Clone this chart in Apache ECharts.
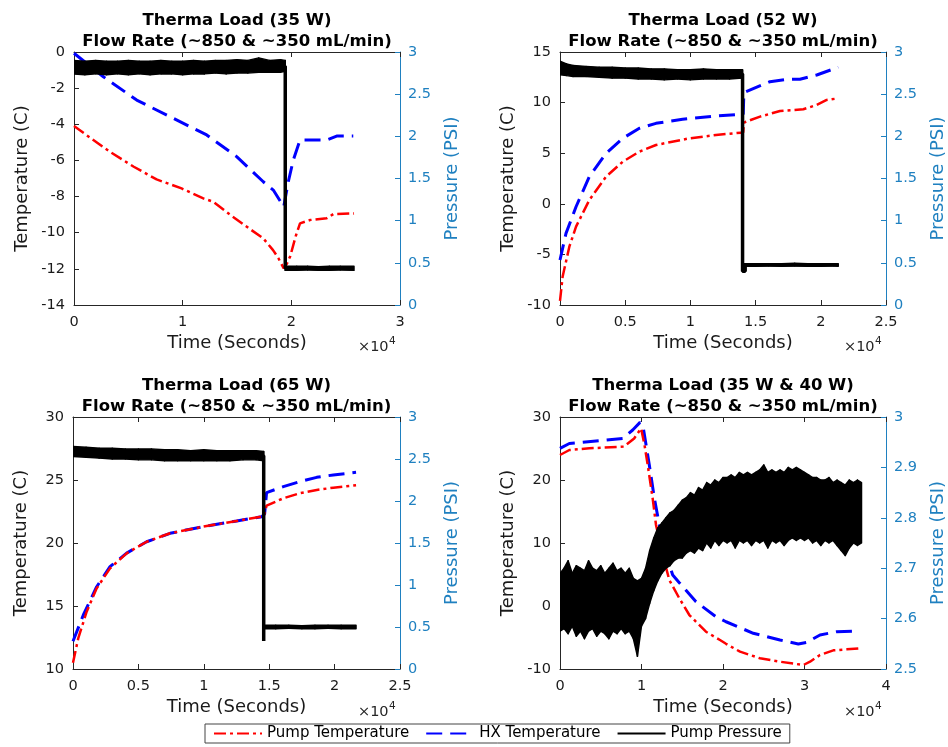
<!DOCTYPE html>
<html>
<head>
<meta charset="utf-8">
<script src="https://cdn.jsdelivr.net/npm/echarts@6/dist/echarts.min.js"></script>
<style>
html,body{margin:0;padding:0;background:#ffffff;}
#chart{width:948px;height:747px;}
</style>
</head>
<body>
<div id="chart"></div>
<script>
// ---------------- DATA ----------------
const titleLine1 = ['Therma Load (35 W)', 'Therma Load (52 W)', 'Therma Load (65 W)', 'Therma Load (35 W & 40 W)'];
const titleLine2 = 'Flow Rate (~850 & ~350 mL/min)';
const seriesNames = ['Pump Temperature', 'HX Temperature', 'Pump Pressure'];
const xAxisTitle = 'Time (Seconds)';
const leftAxisTitle = 'Temperature (C)';
const rightAxisTitle = 'Pressure (PSI)';
const xExponentText = ['\u00d710', '4'];

// axis ranges per panel
const xAxisMax = [30000, 25000, 25000, 40000];
const xAxisStep = [10000, 5000, 5000, 10000];
const tempAxisMin = [-14, -10, 10, -10];
const tempAxisMax = [0, 15, 30, 30];
const tempAxisStep = [2, 5, 5, 10];
const presAxisMin = [0, 0, 0, 2.5];
const presAxisMax = [3, 3, 3, 3];
const presAxisStep = [0.5, 0.5, 0.5, 0.1];

// ---- Panel 1 (35 W) ----
const p1PumpTemp = [[0,-4.1],[1500,-4.75],[3300,-5.52],[5500,-6.35],[7600,-7.05],[9900,-7.55],[11900,-8.1],[12800,-8.28],[14350,-9.0],[16200,-9.8],[17400,-10.3],[18300,-10.95],[18800,-11.4],[19300,-11.97],[19600,-11.7],[19900,-11.3],[20400,-10.2],[20800,-9.48],[21700,-9.3],[23250,-9.2],[23860,-8.97],[25770,-8.93]];
const p1HxTemp = [[0,-0.07],[2700,-1.37],[5770,-2.66],[8830,-3.58],[10980,-4.22],[12210,-4.59],[14970,-5.79],[17420,-7.18],[18340,-7.64],[19300,-8.56],[19720,-7.18],[20180,-5.98],[20800,-4.87],[23250,-4.87],[24170,-4.65],[25700,-4.65]];
const p1PresTime = [0,1000,2000,3000,4000,5000,6000,7000,8000,9000,10000,11000,12000,13000,14000,15000,16000,17000,18000,19000,19440,19440,20500,21500,22500,23500,24500,25770];
const p1PresLow  = [2.74,2.73,2.74,2.73,2.74,2.73,2.74,2.73,2.74,2.74,2.73,2.74,2.74,2.75,2.74,2.75,2.75,2.76,2.76,2.76,2.77,0.41,0.41,0.415,0.41,0.41,0.415,0.41];
const p1PresHigh = [2.90,2.89,2.90,2.89,2.89,2.90,2.89,2.89,2.90,2.89,2.89,2.90,2.89,2.90,2.90,2.91,2.90,2.93,2.90,2.91,2.90,0.46,0.46,0.46,0.455,0.46,0.46,0.46];
const p1PresMid  = [[0,2.82],[19440,2.83],[19440,0.435],[25770,0.435]];

// ---- Panel 2 (52 W) ----
const p2PumpTemp = [[0,-9.6],[200,-7.2],[716,-4.24],[1230,-2.26],[2250,0.38],[3530,2.68],[4810,4.16],[6085,5.15],[7360,5.81],[9920,6.47],[11960,6.8],[13880,7.03],[14050,7.05],[14100,8.0],[14265,8.11],[15340,8.61],[16870,9.17],[18660,9.34],[19690,9.77],[20450,10.26],[21340,10.42]];
const p2HxTemp = [[0,-5.55],[460,-2.92],[1230,-0.29],[2250,2.68],[3530,4.99],[4810,6.47],[6085,7.46],[7360,7.95],[9400,8.35],[11960,8.68],[13880,8.84],[14050,8.85],[14100,10.9],[14265,11.08],[16100,12.07],[17385,12.3],[18400,12.3],[19690,12.73],[21340,13.49]];
const p2PresTime = [0,500,1000,2000,3000,4000,5000,6000,7000,8000,9000,10000,11000,12000,13000,14000,14000,15000,16000,17000,18000,19000,20000,21000,21340];
const p2PresLow  = [2.73,2.72,2.71,2.71,2.70,2.69,2.69,2.68,2.68,2.67,2.68,2.67,2.68,2.68,2.68,2.69,0.46,0.46,0.465,0.46,0.465,0.46,0.46,0.465,0.46];
const p2PresHigh = [2.89,2.86,2.84,2.83,2.82,2.82,2.81,2.81,2.80,2.80,2.79,2.79,2.80,2.79,2.79,2.79,0.49,0.49,0.49,0.49,0.495,0.49,0.49,0.49,0.49];
const p2PresMid  = [[0,2.80],[14000,2.74],[14000,0.40],[14200,0.40],[14200,0.475],[21340,0.475]];

// ---- Panel 3 (65 W) ----
const p3PumpTemp = [[0,10.5],[400,12.43],[1045,14.55],[1810,16.4],[2830,17.99],[4100,19.18],[5630,20.1],[7420,20.77],[9960,21.3],[12510,21.75],[14430,22.09],[14600,22.2],[14800,22.96],[16080,23.55],[17350,23.95],[18630,24.21],[19900,24.39],[21640,24.58]];
const p3HxTemp = [[0,12.2],[790,14.29],[1810,16.53],[2830,18.12],[4100,19.2],[5630,20.1],[7420,20.77],[9960,21.3],[12510,21.75],[14430,22.09],[14650,22.3],[14800,24.0],[16080,24.47],[17350,24.87],[18630,25.21],[19900,25.4],[21640,25.61]];
const p3PresTime = [0,1000,2000,3000,4000,5000,6000,7000,8000,9000,10000,11000,12000,13000,14000,14580,14580,15500,16500,17500,18500,19500,20500,21640];
const p3PresLow  = [2.53,2.52,2.51,2.50,2.50,2.49,2.49,2.48,2.48,2.48,2.48,2.48,2.48,2.49,2.49,2.48,0.48,0.48,0.485,0.48,0.48,0.485,0.48,0.48];
const p3PresHigh = [2.65,2.64,2.63,2.63,2.62,2.62,2.62,2.61,2.61,2.60,2.61,2.60,2.60,2.60,2.60,2.59,0.52,0.52,0.52,0.515,0.52,0.52,0.52,0.52];
const p3PresMid  = [[0,2.59],[14580,2.54],[14580,0.333],[14580,0.50],[21640,0.50]];

// ---- Panel 4 (35 W & 40 W) ----
const p4PumpTemp = [[0,23.97],[1150,24.76],[3600,25.03],[7850,25.3],[9100,26.6],[9950,28.2],[10350,25.7],[10760,22.4],[11370,17.09],[11780,12.86],[12600,8.1],[13410,4.13],[14640,1.22],[15870,-1.43],[17910,-4.08],[19630,-5.4],[20370,-6.0],[22090,-7.25],[24540,-8.3],[26990,-8.84],[29860,-9.37],[30680,-8.84],[31900,-7.78],[33540,-7.04],[35180,-6.88],[37020,-6.7]];
const p4HxTemp = [[0,25.03],[1150,25.8],[5640,26.35],[7690,26.6],[8920,27.94],[9820,29.15],[10230,28.2],[10960,22.38],[11580,17.09],[12190,12.86],[13000,8.1],[13830,4.92],[14640,3.7],[16690,0.68],[19140,-1.7],[20370,-2.5],[23720,-4.33],[26990,-5.4],[29240,-6.03],[30270,-5.77],[31900,-4.6],[33950,-4.08],[36400,-3.97]];
const p4PresTime = [0,500,1000,1500,2000,2500,3000,3500,4000,4500,5000,5500,6000,6500,7000,7500,8000,8500,9000,9500,10000,10500,11000,11500,12000,12500,13000,13500,14000,14500,15000,15500,16000,16500,17000,17500,18000,18500,19000,19500,20000,20500,21000,21500,22000,22500,23000,23500,24000,24500,25000,25500,26000,26500,27000,27500,28000,28500,29000,29500,30000,30500,31000,31500,32000,32500,33000,33500,34000,34500,35000,35500,36000,36500,37000];
const p4PresLow  = [2.575,2.58,2.57,2.585,2.565,2.575,2.56,2.575,2.58,2.565,2.575,2.57,2.56,2.575,2.57,2.58,2.57,2.575,2.56,2.525,2.585,2.60,2.63,2.655,2.675,2.69,2.70,2.705,2.715,2.72,2.72,2.73,2.735,2.73,2.74,2.735,2.75,2.74,2.755,2.745,2.755,2.75,2.755,2.74,2.755,2.75,2.755,2.745,2.755,2.75,2.755,2.74,2.755,2.75,2.755,2.745,2.755,2.76,2.755,2.76,2.755,2.76,2.75,2.755,2.745,2.755,2.75,2.755,2.745,2.735,2.725,2.74,2.75,2.745,2.75];
const p4PresHigh = [2.69,2.70,2.715,2.69,2.705,2.70,2.695,2.715,2.70,2.695,2.705,2.69,2.70,2.71,2.695,2.70,2.69,2.70,2.68,2.675,2.68,2.70,2.735,2.76,2.78,2.79,2.80,2.81,2.815,2.825,2.835,2.84,2.85,2.845,2.86,2.855,2.87,2.865,2.875,2.87,2.88,2.88,2.885,2.88,2.89,2.885,2.89,2.885,2.89,2.895,2.905,2.89,2.895,2.89,2.895,2.89,2.90,2.895,2.90,2.895,2.89,2.885,2.88,2.88,2.875,2.875,2.88,2.87,2.875,2.87,2.865,2.875,2.87,2.875,2.87];

// ---------------- LAYOUT / STYLE ----------------
const FONT = 'DejaVu Sans';
const DARK = '#262626';
const BLUE_AX = '#1f80c0';
const PUMP_COLOR = '#ff0000';
const HX_COLOR = '#0000ff';
const PRES_COLOR = '#000000';

const grids = [
  {left: 74, top: 52, width: 326, height: 253},
  {left: 560, top: 52, width: 326, height: 253},
  {left: 73, top: 417, width: 327, height: 252},
  {left: 560, top: 417, width: 326, height: 252}
];
const titleTops = [10.5, 10.5, 375.5, 375.5];
const expPos = [[358, 347], [844, 347], [358, 712], [844, 712]];

const panels = [
  {pump: p1PumpTemp, hx: p1HxTemp, pt: p1PresTime, lo: p1PresLow, hi: p1PresHigh, mid: p1PresMid},
  {pump: p2PumpTemp, hx: p2HxTemp, pt: p2PresTime, lo: p2PresLow, hi: p2PresHigh, mid: p2PresMid},
  {pump: p3PumpTemp, hx: p3HxTemp, pt: p3PresTime, lo: p3PresLow, hi: p3PresHigh, mid: p3PresMid},
  {pump: p4PumpTemp, hx: p4HxTemp, pt: p4PresTime, lo: p4PresLow, hi: p4PresHigh, mid: null}
];

const option = {
  animation: false,
  backgroundColor: '#ffffff',
  title: [], grid: [], xAxis: [], yAxis: [], series: [], graphic: [],
  legend: {
    data: seriesNames,
    left: 205, top: 724,
    padding: [2, 8, 2, 8],
    itemGap: 16, itemWidth: 48, itemHeight: 12,
    borderColor: '#444', borderWidth: 1, borderRadius: 0,
    backgroundColor: '#ffffff',
    selectedMode: false,
    itemStyle: {opacity: 0, borderWidth: 0},
    textStyle: {fontFamily: FONT, fontSize: 15, color: '#000'}
  }
};

const tickFmt = v => String(+(v / 10000).toFixed(2));

// band segment renderer: polygon between low/high envelopes of consecutive samples
function bandRender(params, api) {
  const a = api.coord([api.value(0), api.value(1)]);
  const b = api.coord([api.value(0), api.value(2)]);
  const c = api.coord([api.value(3), api.value(5)]);
  const d = api.coord([api.value(3), api.value(4)]);
  return {
    type: 'polygon',
    shape: {points: [a, b, c, d]},
    style: {fill: PRES_COLOR, stroke: PRES_COLOR, lineWidth: 1.4, lineJoin: 'round'}
  };
}

panels.forEach((p, i) => {
  const g = grids[i];
  option.grid.push({left: g.left, top: g.top, width: g.width, height: g.height, containLabel: false});
  option.title.push({
    text: titleLine1[i] + '\n' + titleLine2,
    left: g.left + g.width / 2, top: titleTops[i], textAlign: 'center', padding: 0,
    textStyle: {fontFamily: FONT, fontWeight: 'bold', fontSize: 16.5, lineHeight: 21, color: '#000'}
  });
  option.xAxis.push({
    gridIndex: i, type: 'value', position: 'bottom', min: 0, max: xAxisMax[i], interval: xAxisStep[i],
    axisLine: {show: true, onZero: false, lineStyle: {color: DARK, width: 1}},
    axisTick: {show: true, inside: true, length: 5, lineStyle: {color: DARK}},
    axisLabel: {color: '#1a1a1a', fontFamily: FONT, fontSize: 14.5, margin: 10, formatter: tickFmt},
    splitLine: {show: false},
    name: xAxisTitle, nameLocation: 'middle', nameGap: 29,
    nameTextStyle: {color: '#1a1a1a', fontFamily: FONT, fontSize: 18}
  });
  option.xAxis.push({
    gridIndex: i, type: 'value', position: 'top', min: 0, max: xAxisMax[i], interval: xAxisStep[i],
    axisLine: {show: true, onZero: false, lineStyle: {color: DARK, width: 1}},
    axisTick: {show: true, inside: true, length: 5, lineStyle: {color: DARK}},
    axisLabel: {show: false}, splitLine: {show: false}
  });
  option.yAxis.push({
    gridIndex: i, type: 'value', position: 'left', min: tempAxisMin[i], max: tempAxisMax[i], interval: tempAxisStep[i],
    axisLine: {show: true, onZero: false, lineStyle: {color: DARK, width: 1}},
    axisTick: {show: true, inside: true, length: 5, lineStyle: {color: DARK}},
    axisLabel: {color: '#1a1a1a', fontFamily: FONT, fontSize: 14.5, margin: 9},
    splitLine: {show: false},
    name: leftAxisTitle, nameLocation: 'middle', nameGap: 43,
    nameTextStyle: {color: '#1a1a1a', fontFamily: FONT, fontSize: 18}
  });
  option.yAxis.push({
    gridIndex: i, type: 'value', position: 'right', min: presAxisMin[i], max: presAxisMax[i], interval: presAxisStep[i],
    axisLine: {show: true, onZero: false, lineStyle: {color: BLUE_AX, width: 1}},
    axisTick: {show: true, inside: true, length: 5, lineStyle: {color: BLUE_AX}},
    axisLabel: {color: BLUE_AX, fontFamily: FONT, fontSize: 14.5, margin: 8},
    splitLine: {show: false},
    name: rightAxisTitle, nameLocation: 'middle', nameGap: 43,
    nameTextStyle: {color: BLUE_AX, fontFamily: FONT, fontSize: 18}
  });

  const xi = 2 * i, yl = 2 * i, yr = 2 * i + 1;
  option.series.push({
    name: seriesNames[0], type: 'line', xAxisIndex: xi, yAxisIndex: yl, data: p.pump,
    symbol: 'none', showSymbol: false, silent: true, z: 3,
    lineStyle: {color: PUMP_COLOR, width: 2.5, type: [12, 4, 3, 4]}, itemStyle: {color: PUMP_COLOR}
  });
  option.series.push({
    name: seriesNames[1], type: 'line', xAxisIndex: xi, yAxisIndex: yl, data: p.hx,
    symbol: 'none', showSymbol: false, silent: true, z: 2,
    lineStyle: {color: HX_COLOR, width: 3, type: [16, 8]}, itemStyle: {color: HX_COLOR}
  });
  if (p.mid) {
    option.series.push({
      name: seriesNames[2], type: 'line', xAxisIndex: xi, yAxisIndex: yr, data: p.mid,
      symbol: 'none', showSymbol: false, silent: true, z: 5,
      lineStyle: {color: PRES_COLOR, width: 3.5, type: 'solid'}, itemStyle: {color: PRES_COLOR}
    });
  }
  const seg = [];
  for (let k = 0; k < p.pt.length - 1; k++) {
    seg.push([p.pt[k], p.lo[k], p.hi[k], p.pt[k + 1], p.lo[k + 1], p.hi[k + 1]]);
  }
  option.series.push({
    name: 'pressure-band-' + i, type: 'custom', xAxisIndex: xi, yAxisIndex: yr,
    data: seg, renderItem: bandRender, silent: true, z: 4,
    encode: {x: [0, 3], y: [1, 2, 4, 5]}, clip: true
  });

  option.graphic.push({
    type: 'text', x: expPos[i][0], y: expPos[i][1], silent: true,
    style: {text: xExponentText[0], fontFamily: FONT, fontSize: 14.5, fill: DARK, align: 'left', verticalAlign: 'middle'}
  });
  option.graphic.push({
    type: 'text', x: expPos[i][0] + 31, y: expPos[i][1] - 6, silent: true,
    style: {text: xExponentText[1], fontFamily: FONT, fontSize: 10.5, fill: DARK, align: 'left', verticalAlign: 'middle'}
  });
});

const chart = echarts.init(document.getElementById('chart'), null, {renderer: 'canvas'});
chart.setOption(option);
</script>
</body>
</html>
